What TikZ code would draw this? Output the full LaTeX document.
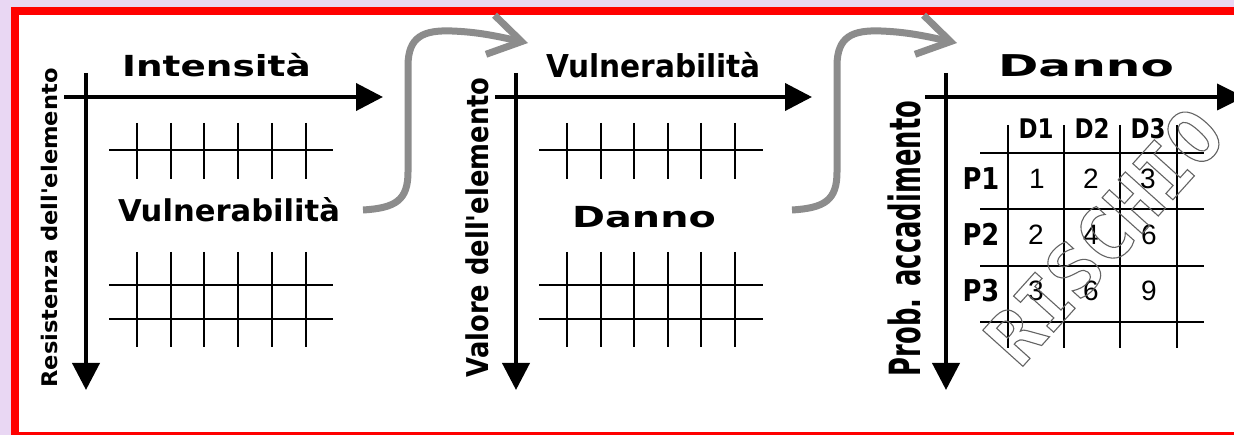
\documentclass[tikz,border=0pt]{standalone}
\usepackage{fontspec}
\setmainfont{DejaVu Sans}
\newfontfamily\labfont{DejaVu Sans}
\newfontfamily\numfont{Liberation Sans}
\newfontfamily\wmfont{DejaVu Sans Mono}
\usetikzlibrary{arrows.meta}
\definecolor{lavender}{RGB}{233,215,243}
\definecolor{flowgray}{RGB}{140,140,140}
\definecolor{wmgray}{RGB}{100,100,100}
% horizontally scaled text
\newcommand\xs[2]{\scalebox{#1}[1]{#2}}
% bold text of a given size
\newcommand\bsz[1]{\fontsize{#1}{#1}\selectfont\bfseries}
% outlined (stroked, unfilled) glyphs
\newcommand\hollow[1]{\special{pdf:literal direct 1 Tr 1.1 w}#1\special{pdf:literal direct 0 Tr}}

\begin{document}
\begin{tikzpicture}[x=1pt,y=-1pt,
  axis/.style={line width=4pt,-{Triangle[length=27pt,width=27pt]}},
  gridline/.style={line width=1.8pt},
  flow/.style={flowgray,line width=7pt,-{Straight Barb[length=32pt,width=40pt]}},
  lbl/.style={inner sep=0pt,anchor=base},
  vlbl/.style={inner sep=0pt,anchor=base,rotate=90},
  num/.style={inner sep=0pt,anchor=base,font=\numfont\fontsize{28}{28}\selectfont}]

\useasboundingbox (0,0) rectangle (1234,435);
\fill[lavender] (0,0) rectangle (1234,435);
\fill[white] (15,11) rectangle (1234,435);
% frame: top, left and bottom sides (it runs on past the right edge)
\fill[red] (11,7) rectangle (1234,15);
\fill[red] (11,7) rectangle (19,435);
\fill[red] (11,432) rectangle (1234,435);

% ---------- panel 1 ----------
\coordinate (h1a) at (64,97);  \coordinate (h1b) at (383,97);
\coordinate (v1a) at (86,73);  \coordinate (v1b) at (86,390);
\draw[axis] (h1a) -- (h1b);
\draw[axis] (v1a) -- (v1b);
\node[lbl,font=\bsz{29}] (tin) at (216.5,77) {\xs{1.29}{Intensità}};
\node[vlbl,font=\labfont\bsz{21.5}] (tres) at (57,228) {\xs{1.05}{Resistenza dell'elemento}};
\node[lbl,font=\bsz{30}] (tvu1) at (229,222) {\xs{1.02}{Vulnerabilità}};
\foreach \x in {137,171,204,238,272,306} {
  \draw[gridline] (\x,123) -- (\x,179);
  \draw[gridline] (\x,252) -- (\x,347);
}
\foreach \y in {150,285,319} \draw[gridline] (109,\y) -- (333,\y);

% ---------- panel 2 ----------
\coordinate (h2a) at (495,97);  \coordinate (h2b) at (812,97);
\coordinate (v2a) at (516,73);  \coordinate (v2b) at (516,390);
\draw[axis] (h2a) -- (h2b);
\draw[axis] (v2a) -- (v2b);
\node[lbl,font=\bsz{31.5}] (tvu2) at (653.5,78) {\xs{0.94}{Vulnerabilità}};
\node[vlbl,font=\labfont\bsz{30}] (tval) at (488,227.5) {\xs{0.86}{Valore dell'elemento}};
\node[lbl,font=\bsz{29}] (tda2) at (644,228) {\xs{1.37}{Danno}};
\foreach \x in {567,601,634,668,701,735} {
  \draw[gridline] (\x,123) -- (\x,179);
  \draw[gridline] (\x,252) -- (\x,347);
}
\foreach \y in {150,285,319} \draw[gridline] (539,\y) -- (763,\y);

% ---------- panel 3 ----------
\coordinate (h3a) at (925,97);  \coordinate (h3b) at (1234,97);
\coordinate (v3a) at (946,73);  \coordinate (v3b) at (946,390);
\draw[line width=4pt] (h3a) -- (h3b);
\fill (1217,83.5) -- (1234,92) -- (1234,102) -- (1217,110.5) -- cycle;
\draw[axis] (v3a) -- (v3b);
\node[lbl,font=\bsz{30}] (tda3) at (1086,77) {\xs{1.62}{Danno}};
\node[vlbl,font=\labfont\bsz{43}] (tprob) at (920,238.5) {\xs{0.60}{Prob. accadimento}};
% risk matrix
\foreach \x in {1008,1064,1120,1177} \draw[gridline] (\x,125) -- (\x,348);
\foreach \y in {153,209,266,322} \draw[gridline] (980,\y) -- (1204,\y);
\foreach \c/\x in {1/1036,2/1092,3/1148}
  \node[lbl,font=\bsz{27}] (d\c) at (\x,139) {\xs{0.85}{D\c}};
\foreach \r/\y in {1/190,2/246,3/302}
  \node[lbl,font=\bsz{30}] (p\r) at (981,\y) {\xs{0.86}{P\r}};
\node[num] (m11) at (1037,189) {1};
\node[num] (m12) at (1091,189) {2};
\node[num] (m13) at (1148,189) {3};
\node[num] (m21) at (1036,245) {2};
\node[num] (m22) at (1091,245) {4};
\node[num] (m23) at (1149,245) {6};
\node[num] (m31) at (1036,301) {3};
\node[num] (m32) at (1091,301) {6};
\node[num] (m33) at (1149,301) {9};
% watermark
\node[inner sep=0pt,rotate=48,text=wmgray,font=\wmfont\bfseries\fontsize{74}{74}\selectfont]
  (wm) at (1104,236) {\hollow{RISCHIO}};

% ---------- flow arrows between panels ----------
\coordinate (f1s) at (363,210); \coordinate (f1e) at (528,43);
\coordinate (f2s) at (792,210); \coordinate (f2e) at (957,43);
\draw[flow] (f1s) .. controls (396,208) and (408,200) .. (408,172)
  -- (408,66) .. controls (408,36) and (424,30) .. (452,31)
  .. controls (478,32) and (496,36) .. (f1e);
\draw[flow] (f2s) .. controls (825,208) and (837,200) .. (837,172)
  -- (837,66) .. controls (837,36) and (853,30) .. (881,31)
  .. controls (907,32) and (925,36) .. (f2e);
\end{tikzpicture}
\end{document}
